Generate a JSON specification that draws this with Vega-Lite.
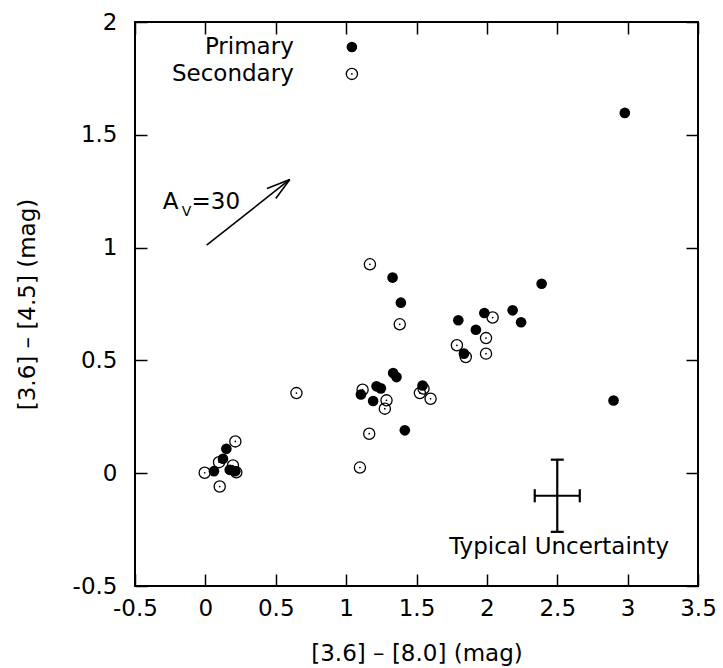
{
  "$schema": "https://vega.github.io/schema/vega-lite/v6.json",
  "width": 563,
  "height": 564,
  "autosize": {"type": "none"},
  "padding": {"left": 135, "top": 22, "right": 25, "bottom": 82},
  "background": "white",
  "config": {
    "font": "DejaVu Sans",
    "view": {"stroke": "black", "strokeWidth": 2},
    "axis": {
      "grid": false,
      "domain": false,
      "tickColor": "black",
      "tickSize": -12,
      "tickWidth": 1.5,
      "labelColor": "black",
      "labelFont": "DejaVu Sans",
      "labelFontSize": 23,
      "titleFont": "DejaVu Sans",
      "titleFontSize": 23,
      "titleFontWeight": "normal",
      "titleColor": "black",
      "labelOverlap": false,
      "labelFlush": false
    },
    "text": {"font": "DejaVu Sans", "fontSize": 23, "color": "black"}
  },
  "datasets": {
    "pts": [
      {"x": 2.98, "y": 1.597, "type": "Primary"},
      {"x": 2.389, "y": 0.84, "type": "Primary"},
      {"x": 2.90, "y": 0.322, "type": "Primary"},
      {"x": 2.183, "y": 0.722, "type": "Primary"},
      {"x": 2.243, "y": 0.669, "type": "Primary"},
      {"x": 1.982, "y": 0.71, "type": "Primary"},
      {"x": 1.922, "y": 0.636, "type": "Primary"},
      {"x": 1.797, "y": 0.678, "type": "Primary"},
      {"x": 1.837, "y": 0.53, "type": "Primary"},
      {"x": 1.33, "y": 0.867, "type": "Primary"},
      {"x": 1.389, "y": 0.756, "type": "Primary"},
      {"x": 1.334, "y": 0.444, "type": "Primary"},
      {"x": 1.358, "y": 0.426, "type": "Primary"},
      {"x": 1.105, "y": 0.349, "type": "Primary"},
      {"x": 1.216, "y": 0.385, "type": "Primary"},
      {"x": 1.247, "y": 0.376, "type": "Primary"},
      {"x": 1.192, "y": 0.32, "type": "Primary"},
      {"x": 1.543, "y": 0.389, "type": "Primary"},
      {"x": 1.417, "y": 0.19, "type": "Primary"},
      {"x": 0.149, "y": 0.108, "type": "Primary"},
      {"x": 0.125, "y": 0.064, "type": "Primary"},
      {"x": 0.173, "y": 0.015, "type": "Primary"},
      {"x": 0.213, "y": 0.009, "type": "Primary"},
      {"x": 0.061, "y": 0.009, "type": "Primary"},
      {"x": 1.169, "y": 0.926, "type": "Secondary"},
      {"x": 1.381, "y": 0.66, "type": "Secondary"},
      {"x": 1.787, "y": 0.567, "type": "Secondary"},
      {"x": 0.647, "y": 0.355, "type": "Secondary"},
      {"x": 1.117, "y": 0.37, "type": "Secondary"},
      {"x": 1.287, "y": 0.323, "type": "Secondary"},
      {"x": 1.275, "y": 0.286, "type": "Secondary"},
      {"x": 1.524, "y": 0.355, "type": "Secondary"},
      {"x": 1.55, "y": 0.375, "type": "Secondary"},
      {"x": 1.6, "y": 0.33, "type": "Secondary"},
      {"x": 1.164, "y": 0.175, "type": "Secondary"},
      {"x": 1.098, "y": 0.025, "type": "Secondary"},
      {"x": 2.041, "y": 0.69, "type": "Secondary"},
      {"x": 1.994, "y": 0.599, "type": "Secondary"},
      {"x": 1.85, "y": 0.515, "type": "Secondary"},
      {"x": 1.994, "y": 0.53, "type": "Secondary"},
      {"x": 0.213, "y": 0.141, "type": "Secondary"},
      {"x": 0.097, "y": 0.049, "type": "Secondary"},
      {"x": 0.196, "y": 0.034, "type": "Secondary"},
      {"x": 0.22, "y": 0.004, "type": "Secondary"},
      {"x": -0.005, "y": 0.002, "type": "Secondary"},
      {"x": 0.102, "y": -0.059, "type": "Secondary"}
    ],
    "legend": [
      {"label": "Primary", "tx": 0.628, "mx": 1.041, "y": 1.889, "type": "Primary"},
      {"label": "Secondary", "tx": 0.628, "mx": 1.041, "y": 1.77, "type": "Secondary"}
    ],
    "arrow": [
      {"x": 0.009, "y": 1.011, "x2": 0.6, "y2": 1.302},
      {"x": 0.438, "y": 1.262, "x2": 0.6, "y2": 1.302},
      {"x": 0.5, "y": 1.218, "x2": 0.6, "y2": 1.302}
    ],
    "uncertainty": [
      {"x": 2.5, "y": 0.06, "x2": 2.5, "y2": -0.26},
      {"x": 2.34, "y": -0.1, "x2": 2.66, "y2": -0.1},
      {"x": 2.454, "y": 0.06, "x2": 2.546, "y2": 0.06},
      {"x": 2.454, "y": -0.26, "x2": 2.546, "y2": -0.26},
      {"x": 2.34, "y": -0.129, "x2": 2.34, "y2": -0.071},
      {"x": 2.66, "y": -0.129, "x2": 2.66, "y2": -0.071}
    ],
    "notes": [
      {"label": "Typical Uncertainty", "x": 2.513, "y": -0.356}
    ],
    "av": [
      {"label": "A", "x": -0.302, "y": 1.169, "part": "main"},
      {"label": "=30", "x": -0.098, "y": 1.169, "part": "main"},
      {"label": "V", "x": -0.167, "y": 1.139, "part": "sub"}
    ]
  },
  "layer": [
    {
      "data": {"name": "pts"},
      "transform": [{"filter": "datum.type === 'Secondary'"}],
      "mark": {"type": "point", "shape": "circle", "filled": false, "stroke": "black", "strokeWidth": 1.3, "size": 125, "opacity": 1},
      "encoding": {
        "x": {
          "field": "x", "type": "quantitative",
          "scale": {"domain": [-0.5, 3.5], "nice": false, "zero": false},
          "axis": {
            "orient": "bottom",
            "values": [-0.5, 0, 0.5, 1, 1.5, 2, 2.5, 3, 3.5],
            "labelExpr": "toString(datum.value)",
            "labelPadding": 23,
            "title": "[3.6] – [8.0] (mag)",
            "titlePadding": 22
          }
        },
        "y": {
          "field": "y", "type": "quantitative",
          "scale": {"domain": [-0.5, 2], "nice": false, "zero": false},
          "axis": {
            "orient": "left",
            "values": [-0.5, 0, 0.5, 1, 1.5, 2],
            "labelExpr": "toString(datum.value)",
            "labelPadding": 30,
            "title": "[3.6] – [4.5] (mag)",
            "titlePadding": 33
          }
        }
      }
    },
    {
      "data": {"name": "pts"},
      "transform": [{"filter": "datum.type === 'Secondary'"}],
      "mark": {"type": "point", "shape": "circle", "filled": true, "fill": "black", "size": 3, "opacity": 1},
      "encoding": {
        "x": {"field": "x", "type": "quantitative", "axis": null},
        "y": {"field": "y", "type": "quantitative", "axis": null}
      }
    },
    {
      "data": {"name": "pts"},
      "transform": [{"filter": "datum.type === 'Primary'"}],
      "mark": {"type": "point", "shape": "circle", "filled": true, "fill": "black", "size": 113, "opacity": 1},
      "encoding": {
        "x": {
          "field": "x", "type": "quantitative",
          "axis": {"orient": "top", "values": [-0.5, 0, 0.5, 1, 1.5, 2, 2.5, 3, 3.5], "labels": false, "title": null}
        },
        "y": {
          "field": "y", "type": "quantitative",
          "axis": {"orient": "right", "values": [-0.5, 0, 0.5, 1, 1.5, 2], "labels": false, "title": null}
        }
      }
    },
    {
      "data": {"name": "legend"},
      "mark": {"type": "text", "align": "right", "baseline": "middle"},
      "encoding": {
        "x": {"field": "tx", "type": "quantitative", "axis": null},
        "y": {"field": "y", "type": "quantitative", "axis": null},
        "text": {"field": "label"}
      }
    },
    {
      "data": {"name": "legend"},
      "transform": [{"filter": "datum.type === 'Primary'"}],
      "mark": {"type": "point", "shape": "circle", "filled": true, "fill": "black", "size": 113, "opacity": 1},
      "encoding": {
        "x": {"field": "mx", "type": "quantitative", "axis": null},
        "y": {"field": "y", "type": "quantitative", "axis": null}
      }
    },
    {
      "data": {"name": "legend"},
      "transform": [{"filter": "datum.type === 'Secondary'"}],
      "mark": {"type": "point", "shape": "circle", "filled": false, "stroke": "black", "strokeWidth": 1.3, "size": 125, "opacity": 1},
      "encoding": {
        "x": {"field": "mx", "type": "quantitative", "axis": null},
        "y": {"field": "y", "type": "quantitative", "axis": null}
      }
    },
    {
      "data": {"name": "legend"},
      "transform": [{"filter": "datum.type === 'Secondary'"}],
      "mark": {"type": "point", "shape": "circle", "filled": true, "fill": "black", "size": 3, "opacity": 1},
      "encoding": {
        "x": {"field": "mx", "type": "quantitative", "axis": null},
        "y": {"field": "y", "type": "quantitative", "axis": null}
      }
    },
    {
      "data": {"name": "arrow"},
      "mark": {"type": "rule", "color": "black", "strokeWidth": 1.6},
      "encoding": {
        "x": {"field": "x", "type": "quantitative", "axis": null},
        "y": {"field": "y", "type": "quantitative", "axis": null},
        "x2": {"field": "x2"},
        "y2": {"field": "y2"}
      }
    },
    {
      "data": {"name": "uncertainty"},
      "mark": {"type": "rule", "color": "black", "strokeWidth": 2.2},
      "encoding": {
        "x": {"field": "x", "type": "quantitative", "axis": null},
        "y": {"field": "y", "type": "quantitative", "axis": null},
        "x2": {"field": "x2"},
        "y2": {"field": "y2"}
      }
    },
    {
      "data": {"name": "notes"},
      "mark": {"type": "text", "align": "center", "baseline": "alphabetic"},
      "encoding": {
        "x": {"field": "x", "type": "quantitative", "axis": null},
        "y": {"field": "y", "type": "quantitative", "axis": null},
        "text": {"field": "label"}
      }
    },
    {
      "data": {"name": "av"},
      "transform": [{"filter": "datum.part === 'main'"}],
      "mark": {"type": "text", "align": "left", "baseline": "alphabetic"},
      "encoding": {
        "x": {"field": "x", "type": "quantitative", "axis": null},
        "y": {"field": "y", "type": "quantitative", "axis": null},
        "text": {"field": "label"}
      }
    },
    {
      "data": {"name": "av"},
      "transform": [{"filter": "datum.part === 'sub'"}],
      "mark": {"type": "text", "align": "left", "baseline": "alphabetic", "fontSize": 14},
      "encoding": {
        "x": {"field": "x", "type": "quantitative", "axis": null},
        "y": {"field": "y", "type": "quantitative", "axis": null},
        "text": {"field": "label"}
      }
    }
  ],
  "resolve": {"axis": {"x": "independent", "y": "independent"}}
}
